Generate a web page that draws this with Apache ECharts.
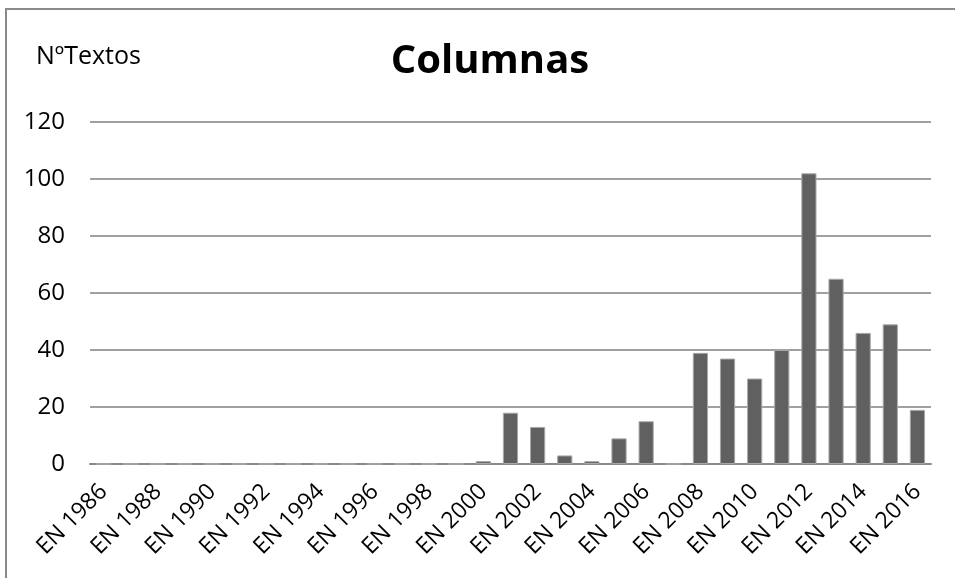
<!DOCTYPE html>
<html>
<head>
<meta charset="utf-8">
<script src="https://cdn.jsdelivr.net/npm/echarts@6/dist/echarts.min.js"></script>
<style>
html,body{margin:0;padding:0;background:#fff;}
#chart{width:955px;height:578px;}
</style>
</head>
<body>
<div id="chart"></div>
<script>
const years = ['EN 1986','EN 1987','EN 1988','EN 1989','EN 1990','EN 1991','EN 1992','EN 1993','EN 1994','EN 1995','EN 1996','EN 1997','EN 1998','EN 1999','EN 2000','EN 2001','EN 2002','EN 2003','EN 2004','EN 2005','EN 2006','EN 2007','EN 2008','EN 2009','EN 2010','EN 2011','EN 2012','EN 2013','EN 2014','EN 2015','EN 2016'];
const textos = [0,0,0,0,0,0,0,0,0,0,0,0,0,0,1,18,13,3,1,9,15,0,39,37,30,40,102,65,46,49,19];
const yTicks = {min:0, max:120, interval:20};

const chart = echarts.init(document.getElementById('chart'));
const font = '"Open Sans", "Liberation Sans", sans-serif';
chart.setOption({
  animation:false,
  backgroundColor:'#fff',
  title:{
    text:'Columnas', left:485, top:37, textAlign:'center',
    textStyle:{fontFamily:font, fontWeight:'bold', fontSize:40, color:'#000'}
  },
  graphic:[
    {type:'rect', shape:{x:6, y:9, width:1200, height:1200}, style:{fill:'none', stroke:'#8a8a8a', lineWidth:2}, silent:true},
    {type:'text', left:36, top:44, style:{text:'NºTextos', fontFamily:font, fontSize:25, fill:'#000'}}
  ],
  grid:{left:90, right:24, top:122, bottom:114},
  xAxis:{
    type:'category', data:years,
    axisLine:{lineStyle:{color:'#8a8a8a', width:2}},
    axisTick:{show:false},
    axisLabel:{interval:1, rotate:45, margin:24, fontFamily:font, fontSize:23, color:'#000'}
  },
  yAxis:{
    type:'value', min:yTicks.min, max:yTicks.max, interval:yTicks.interval,
    axisLine:{show:false}, axisTick:{show:false},
    splitLine:{lineStyle:{color:'#a0a0a0', width:2}},
    axisLabel:{margin:25, fontFamily:font, fontSize:24, color:'#000'}
  },
  series:[{
    type:'bar', data:textos, barCategoryGap:'44%',
    itemStyle:{color:'#606060', borderColor:'#a8a8a8', borderWidth:1}
  }]
});
</script>
</body>
</html>
